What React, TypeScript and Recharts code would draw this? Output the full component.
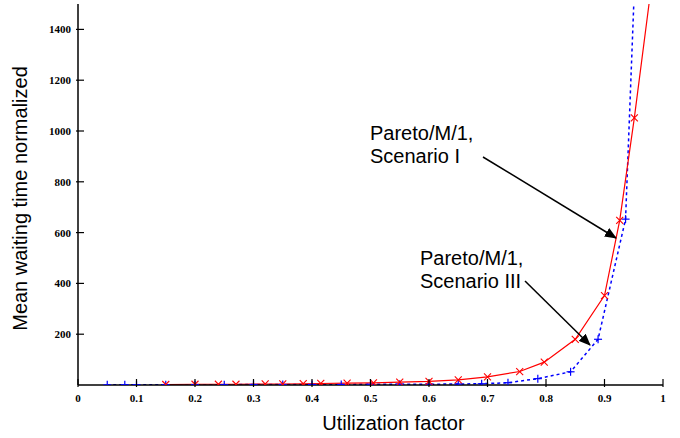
import { Line, LineChart, XAxis, YAxis } from "recharts";

const xTicks = [0, 0.1, 0.2, 0.3, 0.4, 0.5, 0.6, 0.7, 0.8, 0.9, 1];
const xTickLabels = ["0", "0.1", "0.2", "0.3", "0.4", "0.5", "0.6", "0.7", "0.8", "0.9", "1"];
const yTicks = [200, 400, 600, 800, 1000, 1200, 1400];

const scenarioIX = [0.15, 0.2, 0.24, 0.27, 0.32, 0.35, 0.385, 0.415, 0.46, 0.505, 0.55, 0.6, 0.65, 0.7, 0.755, 0.797, 0.85, 0.9, 0.926, 0.951, 0.98];
const scenarioIY = [2, 3, 3, 3, 4, 4, 5, 6, 7, 8, 11, 14, 20, 32, 53, 90, 180, 352, 648, 1052, 1570];

const scenarioIIIX = [0.05, 0.08, 0.1, 0.15, 0.2, 0.25, 0.3, 0.35, 0.4, 0.45, 0.5, 0.55, 0.6, 0.65, 0.69, 0.735, 0.786, 0.842, 0.889, 0.936, 0.96];
const scenarioIIIY = [0.5, 1, 1, 1, 1, 1, 2, 2, 2, 2, 3, 3, 3, 4, 5, 9, 25, 52, 180, 653, 2100];

const scenarioI = scenarioIX.map((x, i) => ({ x, y: scenarioIY[i] }));
const scenarioIII = scenarioIIIX.map((x, i) => ({ x, y: scenarioIIIY[i] }));

const tickFont = { fontFamily: "'Liberation Serif', serif", fontWeight: 700, fontSize: 11 };
const labelFont = { fontFamily: "'Liberation Sans', Arial, sans-serif", fontSize: 20, fill: "#000" };

function BottomTick({ x, y, payload }: any) {
  const i = xTicks.indexOf(payload.value);
  return (
    <g>
      <line x1={x} y1={y} x2={x} y2={y - 8} stroke="#000" strokeWidth={1.2} />
      <text x={x} y={y + 15} textAnchor="middle" {...tickFont}>{xTickLabels[i] ?? payload.value}</text>
    </g>
  );
}

function TopTick({ x, y }: any) {
  return <line x1={x} y1={y} x2={x} y2={y + 8} stroke="#000" strokeWidth={1.2} />;
}

function LeftTick({ x, y, payload }: any) {
  return (
    <g>
      <line x1={x} y1={y} x2={x + 8} y2={y} stroke="#000" strokeWidth={1.2} />
      <text x={x - 5} y={y + 4} textAnchor="end" {...tickFont}>{payload.value}</text>
    </g>
  );
}

function RightTick({ x, y }: any) {
  return <line x1={x} y1={y} x2={x - 8} y2={y} stroke="#000" strokeWidth={1.2} />;
}

function CrossDot({ cx, cy, index }: any) {
  if (cx == null || cy == null) return <g key={index} />;
  const s = 3.5;
  return (
    <g key={index}>
      <line x1={cx - s} y1={cy - s} x2={cx + s} y2={cy + s} stroke="#ff0000" strokeWidth={1.1} />
      <line x1={cx - s} y1={cy + s} x2={cx + s} y2={cy - s} stroke="#ff0000" strokeWidth={1.1} />
    </g>
  );
}

function PlusDot({ cx, cy, index }: any) {
  if (cx == null || cy == null) return <g key={index} />;
  const s = 4;
  return (
    <g key={index}>
      <line x1={cx - s} y1={cy} x2={cx + s} y2={cy} stroke="#0000ff" strokeWidth={1.2} />
      <line x1={cx} y1={cy - s} x2={cx} y2={cy + s} stroke="#0000ff" strokeWidth={1.2} />
    </g>
  );
}

export default function App() {
  return (
    <div style={{ position: "absolute", left: 0, top: 0, width: 680, height: 438, background: "#fff" }}>
      <LineChart width={680} height={438} margin={{ top: 4, right: 17, bottom: 0, left: 0 }}>
        <XAxis
          dataKey="x"
          type="number"
          domain={[0, 1]}
          ticks={xTicks}
          height={53}
          tickSize={0}
          tickLine={false}
          axisLine={{ stroke: "#000", strokeWidth: 1.5 }}
          tick={<BottomTick />}
          interval={0}
          allowDataOverflow
          label={{ value: "Utilization factor", position: "insideBottom", offset: 8, dx: 23, style: labelFont }}
        />
        <XAxis
          xAxisId="top"
          orientation="top"
          dataKey="x"
          type="number"
          domain={[0, 1]}
          ticks={xTicks}
          height={0}
          tickSize={0}
          tickLine={false}
          axisLine={{ stroke: "#000", strokeWidth: 1.5 }}
          tick={<TopTick />}
          interval={0}
        />
        <YAxis
          type="number"
          domain={[0, 1500]}
          ticks={yTicks}
          width={78}
          tickSize={0}
          tickLine={false}
          axisLine={{ stroke: "#000", strokeWidth: 1.5 }}
          tick={<LeftTick />}
          interval={0}
          allowDataOverflow
          label={{ value: "Mean waiting time normalized", angle: -90, position: "insideLeft", offset: 20, dy: 4, style: { ...labelFont, textAnchor: "middle" } }}
        />
        <YAxis
          yAxisId="right"
          orientation="right"
          type="number"
          domain={[0, 1500]}
          ticks={yTicks}
          width={0}
          tickSize={0}
          tickLine={false}
          axisLine={{ stroke: "#000", strokeWidth: 1.5 }}
          tick={<RightTick />}
          interval={0}
        />
        <Line
          data={scenarioIII}
          dataKey="y"
          type="linear"
          stroke="#0000ff"
          strokeWidth={1.5}
          strokeDasharray="3 3"
          dot={(p: any) => <PlusDot key={`b${p.index}`} {...p} />}
          isAnimationActive={false}
        />
        <Line
          data={scenarioI}
          dataKey="y"
          type="linear"
          stroke="#ff0000"
          strokeWidth={1.2}
          dot={(p: any) => <CrossDot key={`r${p.index}`} {...p} />}
          isAnimationActive={false}
        />
      </LineChart>
      <svg width={680} height={438} style={{ position: "absolute", left: 0, top: 0, pointerEvents: "none" }}>
        <defs>
          <marker id="head" markerWidth="12" markerHeight="10" refX="11" refY="5" orient="auto" markerUnits="userSpaceOnUse">
            <path d="M0,0 L12,5 L0,10 Z" fill="#000" />
          </marker>
        </defs>
        <text x={370} y={140} {...labelFont}>Pareto/M/1,</text>
        <text x={370} y={163} {...labelFont}>Scenario I</text>
        <line x1={483} y1={157} x2={616} y2={238} stroke="#000" strokeWidth={1.5} markerEnd="url(#head)" />
        <text x={420} y={265} {...labelFont}>Pareto/M/1,</text>
        <text x={420} y={288} {...labelFont}>Scenario III</text>
        <line x1={525} y1={281} x2={590} y2={345} stroke="#000" strokeWidth={1.5} markerEnd="url(#head)" />
      </svg>
    </div>
  );
}
